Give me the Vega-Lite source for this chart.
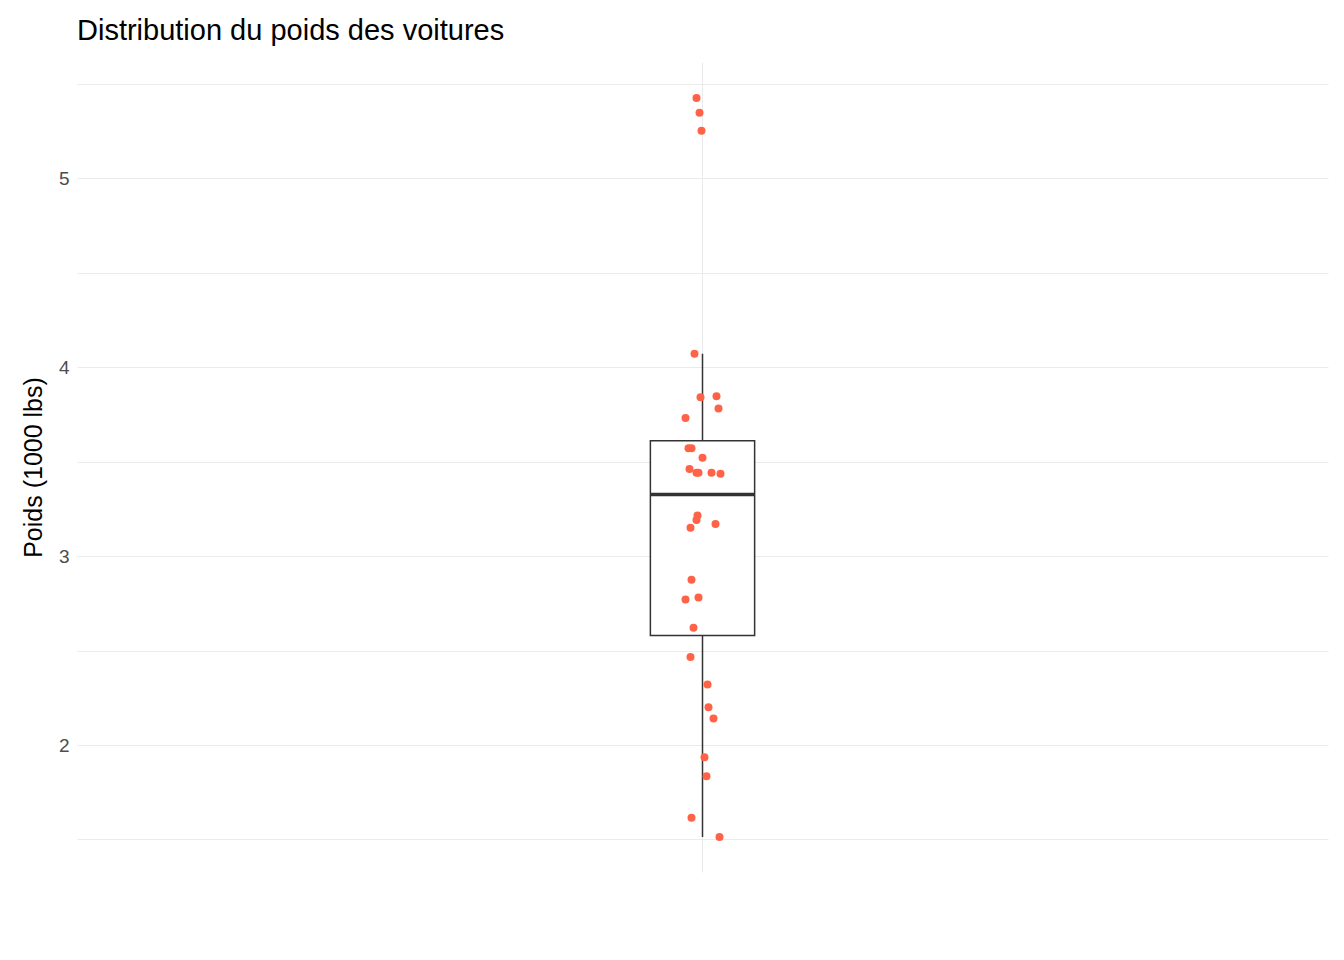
{
  "$schema": "https://vega.github.io/schema/vega-lite/v6.json",
  "autosize": "none",
  "width": 1251,
  "height": 810,
  "padding": {"left": 77, "top": 62, "right": 16, "bottom": 88},
  "background": "white",
  "config": {"view": {"stroke": null}, "font": "Liberation Sans"},
  "title": {"text": "Distribution du poids des voitures", "anchor": "start", "frame": "group", "fontSize": 29, "fontWeight": "normal", "color": "#000000", "offset": 16},
  "datasets": {
    "cars": [
      {"wt": 5.424, "jit": -6}, {"wt": 5.345, "jit": -3}, {"wt": 5.25, "jit": -1},
      {"wt": 4.07, "jit": -8}, {"wt": 3.845, "jit": 14}, {"wt": 3.84, "jit": -2},
      {"wt": 3.78, "jit": 16}, {"wt": 3.73, "jit": -17}, {"wt": 3.57, "jit": -14},
      {"wt": 3.57, "jit": -11}, {"wt": 3.52, "jit": 0}, {"wt": 3.46, "jit": -13},
      {"wt": 3.44, "jit": -6}, {"wt": 3.44, "jit": -4}, {"wt": 3.44, "jit": 9},
      {"wt": 3.435, "jit": 18}, {"wt": 3.215, "jit": -5}, {"wt": 3.19, "jit": -6},
      {"wt": 3.17, "jit": 13}, {"wt": 3.15, "jit": -12}, {"wt": 2.875, "jit": -11},
      {"wt": 2.78, "jit": -4}, {"wt": 2.77, "jit": -17}, {"wt": 2.62, "jit": -9},
      {"wt": 2.465, "jit": -12}, {"wt": 2.32, "jit": 5}, {"wt": 2.2, "jit": 6},
      {"wt": 2.14, "jit": 11}, {"wt": 1.935, "jit": 2}, {"wt": 1.835, "jit": 4},
      {"wt": 1.615, "jit": -11}, {"wt": 1.513, "jit": 17}
    ],
    "stats": [
      {"x": 1, "x1": 0.95, "x2": 1.05, "lo": 1.513, "q1": 2.58, "med": 3.325, "q3": 3.61, "hi": 4.07}
    ]
  },
  "encoding": {},
  "layer": [
    {
      "data": {"name": "stats"},
      "mark": {"type": "rule", "color": "#333333", "strokeWidth": 1.5},
      "encoding": {
        "x": {"field": "x", "type": "quantitative", "scale": {"domain": [0.4, 1.6], "nice": false, "zero": false},
          "axis": {"values": [1], "labels": false, "ticks": false, "domain": false, "title": null, "grid": true, "gridColor": "#ebebeb"}},
        "y": {"field": "lo", "type": "quantitative", "scale": {"domain": [1.328, 5.614], "nice": false, "zero": false},
          "axis": {"values": [1.5, 2, 2.5, 3, 3.5, 4, 4.5, 5, 5.5], "labelExpr": "datum.value % 1 == 0 ? format(datum.value, 'd') : ''", "ticks": false, "domain": false, "gridColor": "#ebebeb", "labelFontSize": 19, "labelColor": "#4d4d4d", "labelPadding": 8, "title": "Poids (1000 lbs)", "titleFontSize": 25, "titleFontWeight": "normal", "titleColor": "#000000", "titlePadding": 12}},
        "y2": {"field": "hi"}
      }
    },
    {
      "data": {"name": "stats"},
      "mark": {"type": "rect", "fill": "white", "stroke": "#333333", "strokeWidth": 1.5},
      "encoding": {
        "x": {"field": "x1", "type": "quantitative"},
        "x2": {"field": "x2"},
        "y": {"field": "q1", "type": "quantitative"},
        "y2": {"field": "q3"}
      }
    },
    {
      "data": {"name": "stats"},
      "mark": {"type": "rule", "color": "#333333", "strokeWidth": 3.5},
      "encoding": {
        "x": {"field": "x1", "type": "quantitative"},
        "x2": {"field": "x2"},
        "y": {"field": "med", "type": "quantitative"}
      }
    },
    {
      "data": {"name": "cars"},
      "transform": [{"calculate": "1 + datum.jit / 1042.5", "as": "xpos"}],
      "mark": {"type": "circle", "size": 64, "color": "#ff6347", "opacity": 1},
      "encoding": {
        "x": {"field": "xpos", "type": "quantitative"},
        "y": {"field": "wt", "type": "quantitative"}
      }
    }
  ]
}
